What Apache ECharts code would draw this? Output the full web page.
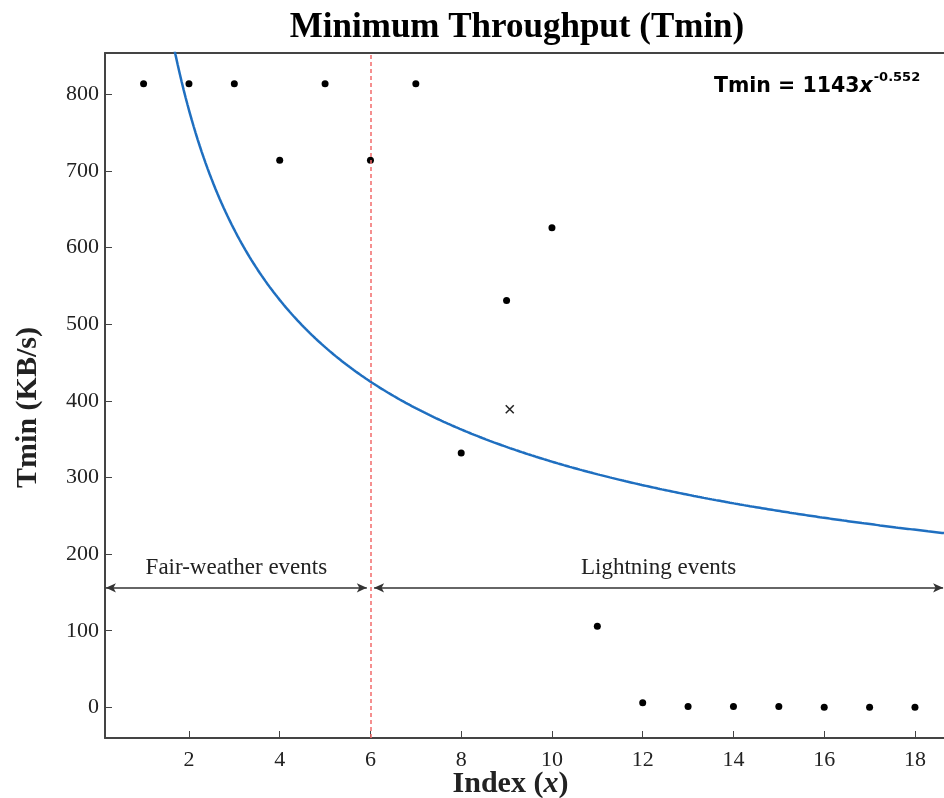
<!DOCTYPE html>
<html>
<head>
<meta charset="utf-8">
<script src="https://cdn.jsdelivr.net/npm/echarts@6/dist/echarts.min.js"></script>
<style>
  html, body { margin: 0; padding: 0; background: #fff; }
  #chart { width: 944px; height: 798px; }
</style>
</head>
<body>
<div id="chart"></div>
<script>
// Measured minimum throughput per event index
const eventIndex = [1, 2, 3, 4, 5, 6, 7, 8, 9, 10, 11, 12, 13, 14, 15, 16, 17, 18];
const tminValues = [814, 814, 814, 714, 814, 714, 814, 332, 531, 626, 106, 6, 1, 1, 1, 0, 0, 0];
// Excluded sample, drawn as a cross
const outlierPoint = [9.07, 389];
// Power-law fit Tmin = A * x^B
const fitA = 1143;
const fitB = -0.552;
// Axis ticks
const xTicks = [2, 4, 6, 8, 10, 12, 14, 16, 18];
const yTicks = [0, 100, 200, 300, 400, 500, 600, 700, 800];
// Event groups separated at index 6
const splitIndex = 6;
const arrowLevel = 156;
const groupLabels = ['Fair-weather events', 'Lightning events'];

const xMin = 0.15, xMax = 18.64, yMin = -40, yMax = 854;

const scatterData = eventIndex.map((x, i) => [x, tminValues[i]]);
const fitData = [];
for (let k = 0; k <= 400; k++) {
  const x = 1.0 + (xMax - 1.0) * k / 400;
  fitData.push([x, fitA * Math.pow(x, fitB)]);
}

const serif = '"Liberation Serif", "Times New Roman", serif';
const sans = '"DejaVu Sans", Verdana, sans-serif';
const chart = echarts.init(document.getElementById('chart'), null, { renderer: 'canvas' });

chart.setOption({
  animation: false,
  backgroundColor: '#fff',
  title: {
    text: 'Minimum Throughput (Tmin)',
    left: 512, top: 5, textAlign: 'center',
    textStyle: { fontFamily: serif, fontWeight: 'bold', fontSize: 35, color: '#000' }
  },
  grid: { left: 105, right: 0, top: 53, bottom: 60, outerBoundsMode: 'none', containLabel: false },
  xAxis: [{
    type: 'value', min: xMin, max: xMax,
    name: 'Index ({i|x})', nameLocation: 'middle', nameGap: 31, nameMoveOverlap: false,
    nameTextStyle: {
      fontFamily: serif, fontWeight: 'bold', fontSize: 30, color: '#222',
      padding: [0, 28, 0, 0],
      rich: { i: { fontFamily: serif, fontWeight: 'bold', fontStyle: 'italic', fontSize: 30, color: '#222' } }
    },
    axisLine: { show: true, onZero: false, lineStyle: { color: '#444', width: 2 } },
    axisTick: { show: true, inside: true, length: 7, customValues: xTicks, lineStyle: { color: '#444', width: 1 } },
    axisLabel: { customValues: xTicks, margin: 11, fontFamily: serif, fontSize: 22, color: '#222' },
    splitLine: { show: false }
  }, {
    type: 'value', position: 'top', min: xMin, max: xMax,
    axisLine: { show: true, onZero: false, lineStyle: { color: '#444', width: 2 } },
    axisTick: { show: false }, axisLabel: { show: false }, splitLine: { show: false }
  }],
  yAxis: {
    type: 'value', min: yMin, max: yMax,
    name: 'Tmin (KB/s)', nameLocation: 'middle', nameGap: 62, nameRotate: 90,
    nameTextStyle: {
      fontFamily: serif, fontWeight: 'bold', fontSize: 30, color: '#222',
      padding: [0, 24, 0, 0]
    },
    axisLine: { show: true, onZero: false, lineStyle: { color: '#444', width: 2 } },
    axisTick: { show: true, inside: true, length: 7, customValues: yTicks, lineStyle: { color: '#444', width: 1 } },
    axisLabel: { customValues: yTicks, margin: 6, fontFamily: serif, fontSize: 22, color: '#222' },
    splitLine: { show: false }
  },
  series: [{
    name: 'fit', type: 'line', data: fitData, showSymbol: false, clip: true,
    lineStyle: { color: '#1f6fc0', width: 2.5 },
    markLine: {
      silent: true, symbol: 'none',
      lineStyle: { color: '#f26b6b', width: 1.5, type: [4, 3] },
      label: { show: false },
      data: [{ xAxis: splitIndex }]
    },
    z: 3
  }, {
    name: 'Tmin', type: 'scatter', data: scatterData, symbol: 'circle', symbolSize: 7,
    itemStyle: { color: '#000', opacity: 1 }, z: 4,
    markLine: {
      silent: true, symbol: ['arrow', 'arrow'], symbolSize: [7, 10],
      lineStyle: { color: '#333', width: 1.5, type: 'solid' },
      label: {
        show: true, position: 'insideMiddleTop', distance: 8,
        fontFamily: serif, fontSize: 23, color: '#222'
      },
      data: [
        [{ coord: [xMin + 0.02, arrowLevel], label: { formatter: groupLabels[0] } }, { coord: [splitIndex - 0.08, arrowLevel] }],
        [{ coord: [splitIndex + 0.08, arrowLevel], label: { formatter: groupLabels[1] } }, { coord: [xMax - 0.02, arrowLevel] }]
      ]
    }
  }, {
    name: 'excluded', type: 'scatter', data: [outlierPoint],
    symbol: 'path://M0,0L10,10M10,0L0,10', symbolSize: 8,
    itemStyle: { color: 'none', borderColor: '#222', borderWidth: 1.5, opacity: 1 }, z: 4
  }],
  graphic: [{
    type: 'text', left: 714, top: 71,
    style: {
      text: '{a|Tmin = 1143}{i|x}{s|-0.552}',
      rich: {
        a: { fontFamily: sans, fontWeight: 'bold', fontSize: 20.5, color: '#111', verticalAlign: 'bottom', lineHeight: 26 },
        i: { fontFamily: sans, fontWeight: 'bold', fontStyle: 'italic', fontSize: 20.5, color: '#111', verticalAlign: 'bottom', lineHeight: 26 },
        s: { fontFamily: sans, fontWeight: 'bold', fontSize: 13, color: '#111', verticalAlign: 'top', lineHeight: 26, padding: [0, 0, 12, 1] }
      }
    }
  }]
});
</script>
</body>
</html>
